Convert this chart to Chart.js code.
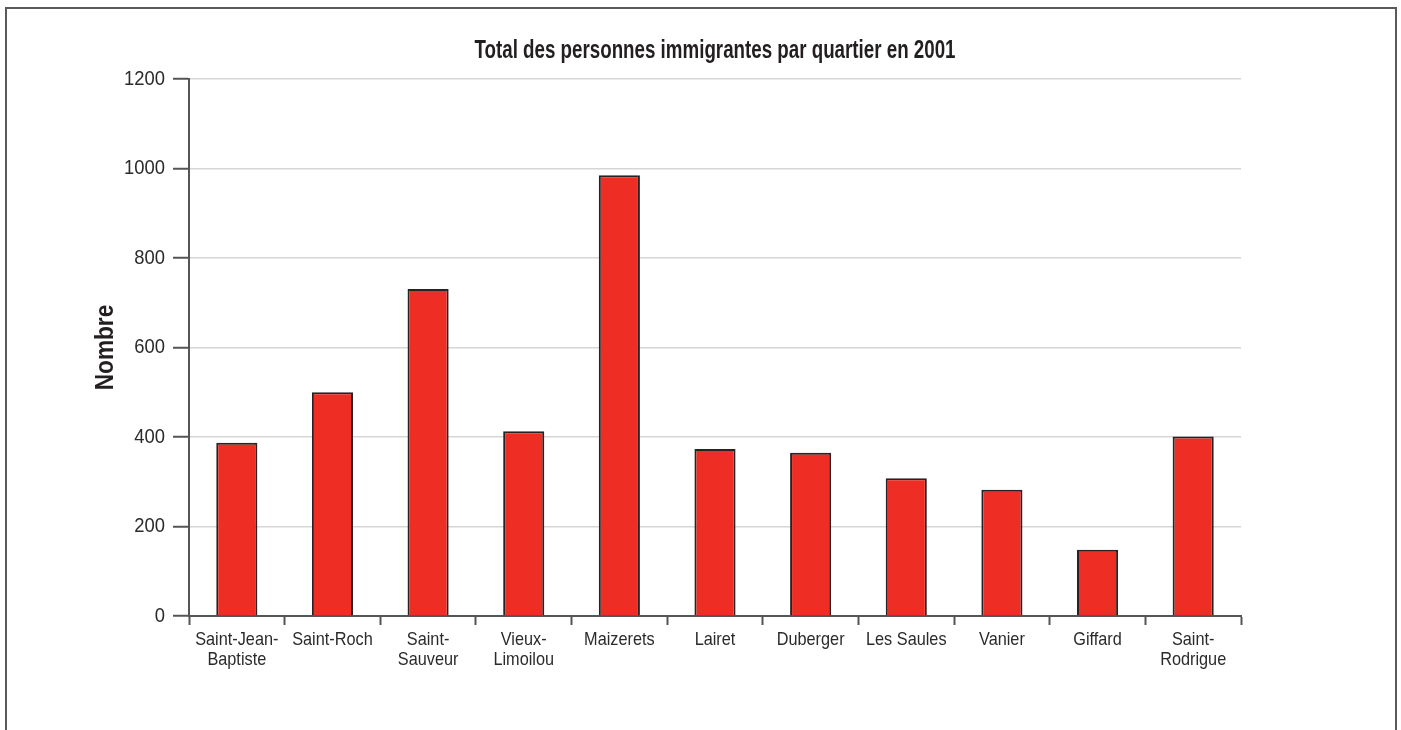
<!DOCTYPE html>
<html lang="fr">
<head>
<meta charset="utf-8">
<title>Total des personnes immigrantes par quartier en 2001</title>
<script src="https://cdn.jsdelivr.net/npm/chart.js@4/dist/chart.umd.min.js"></script>
<style>
    html, body { margin: 0; padding: 0; background: #ffffff; overflow: hidden; }
    #wrap { position: relative; width: 1401px; height: 730px; }
    #frame {
        position: absolute; left: 5px; top: 7px; width: 1392px; height: 800px;
        border: 2px solid #5a5a5a; box-sizing: border-box;
    }
    #chart { position: absolute; left: 0; top: 0; }
</style>
</head>
<body>
<div id="wrap">
    <div id="frame"></div>
    <canvas id="chart" width="1401" height="730"></canvas>
</div>
<script>
// Quartiers et nombre de personnes immigrantes (2001)
const quartiers = [
    ["Saint-Jean-", "Baptiste"],
    "Saint-Roch",
    ["Saint-", "Sauveur"],
    ["Vieux-", "Limoilou"],
    "Maizerets",
    "Lairet",
    "Duberger",
    "Les Saules",
    "Vanier",
    "Giffard",
    ["Saint-", "Rodrigue"],
];
const immigrants = [387, 500, 731, 413, 985, 373, 365, 308, 282, 148, 401];
const yTicks = [0, 200, 400, 600, 800, 1000, 1200];

const FONT = "'Liberation Sans', Arial, sans-serif";
const TEXT = "#2b2b2b";
const AXIS = "#555555";

// No condensed Helvetica here: squeeze the glyphs horizontally per font size
const condense = { 25: 0.75, 26: 0.87, 18.5: 0.88, 20: 0.92 };

const condensedText = {
    id: "condensedText",
    beforeDraw(chart) {
        const c = chart.ctx;
        if (c._condensed) return;
        const fill = c.fillText.bind(c);
        c.fillText = function (text, x, y, maxWidth) {
            const m = /(\d+(?:\.\d+)?)px/.exec(c.font);
            const k = m ? condense[parseFloat(m[1])] || 1 : 1;
            if (k === 1) return fill(text, x, y, maxWidth);
            c.save();
            c.translate(x, y);
            c.scale(k, 1);
            fill(text, 0, 0);
            c.restore();
        };
        c._condensed = true;
    },
};

const ctx = document.getElementById("chart").getContext("2d");

new Chart(ctx, {
    type: "bar",
    data: {
        labels: quartiers,
        datasets: [
            {
                data: immigrants,
                backgroundColor: "#ee2e24",
                borderColor: "#2a2222",
                borderWidth: 2,
                borderSkipped: "bottom",
                barPercentage: 0.43,
                categoryPercentage: 1,
            },
        ],
    },
    plugins: [condensedText],
    options: {
        responsive: false,
        devicePixelRatio: 1,
        animation: false,
        layout: {
            padding: { left: 90, right: 160, top: 36, bottom: 0 },
        },
        plugins: {
            legend: { display: false },
            tooltip: { enabled: false },
            title: {
                display: true,
                fullSize: false,
                text: "Total des personnes immigrantes par quartier en 2001",
                color: "#231f20",
                font: { family: FONT, size: 25, weight: "bold", lineHeight: 1.2 },
                padding: { top: 0, bottom: 13 },
            },
        },
        scales: {
            x: {
                afterFit: (scale) => {
                    scale.height = 114;
                },
                grid: {
                    offset: true,
                    drawOnChartArea: false,
                    drawTicks: true,
                    tickLength: 9,
                    tickColor: AXIS,
                    tickWidth: 2,
                },
                border: { display: true, color: AXIS, width: 2 },
                ticks: {
                    color: TEXT,
                    padding: 4,
                    maxRotation: 0,
                    autoSkip: false,
                    font: { family: FONT, size: 18.5, lineHeight: 1.13 },
                },
            },
            y: {
                min: 0,
                max: 1200,
                afterFit: (scale) => {
                    scale.width = 99;
                },
                afterBuildTicks: (scale) => {
                    scale.ticks = yTicks.map((v) => ({ value: v }));
                },
                grid: {
                    color: "#d6d6d6",
                    lineWidth: 1.5,
                    tickColor: AXIS,
                    tickWidth: 2,
                    tickLength: 16,
                },
                border: { display: true, color: AXIS, width: 2 },
                ticks: {
                    color: TEXT,
                    padding: 8,
                    font: { family: FONT, size: 20 },
                    callback: (v) => String(v),
                },
                title: {
                    display: true,
                    text: "Nombre",
                    color: "#231f20",
                    padding: 0,
                    font: { family: FONT, size: 26, weight: "bold", lineHeight: 1.2 },
                },
            },
        },
    },
});
</script>
</body>
</html>
